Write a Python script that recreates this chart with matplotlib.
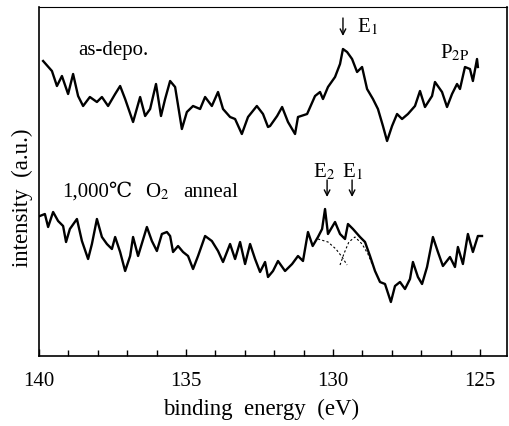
import matplotlib
matplotlib.use("Agg")
import matplotlib.pyplot as plt

plt.rcParams["font.family"] = ["Liberation Serif", "DejaVu Serif"]
plt.rcParams["mathtext.fontset"] = "stix"

# as-depo. spectrum (binding energy [eV], intensity [a.u.])
depo_ev = [139.86, 139.56, 139.39, 139.22, 139.01, 138.84, 138.67, 138.50, 138.27, 138.03,
           137.86, 137.65, 137.41, 137.24, 137.07, 136.80, 136.56, 136.39, 136.22, 136.02,
           135.85, 135.71, 135.54, 135.37, 135.14, 134.97, 134.76, 134.52, 134.35, 134.12,
           133.91, 133.74, 133.50, 133.33, 133.10, 132.89, 132.59, 132.38, 132.21, 132.14,
           131.90, 131.73, 131.53, 131.29, 131.19, 130.88, 130.61, 130.44, 130.34, 130.17,
           129.93, 129.76, 129.66, 129.52, 129.35, 129.18, 129.01, 128.84, 128.64, 128.47,
           128.30, 128.16, 127.99, 127.82, 127.65, 127.45, 127.21, 127.04, 126.87, 126.63,
           126.53, 126.29, 126.12, 125.95, 125.78, 125.68, 125.51, 125.34, 125.24, 125.10,
           125.07]
depo_int = [295, 285, 270, 280, 262, 282, 260, 250, 259, 254,
            259, 250, 262, 270, 257, 234, 259, 240, 247, 272,
            240, 257, 275, 269, 227, 244, 250, 247, 259, 250,
            264, 247, 239, 237, 222, 239, 250, 242, 229, 230,
            240, 249, 234, 222, 239, 242, 260, 264, 257, 269,
            279, 292, 307, 304, 297, 284, 289, 267, 257, 247,
            230, 215, 230, 242, 237, 242, 250, 265, 249, 260,
            274, 264, 249, 262, 272, 267, 289, 287, 275, 297,
            289]

# 1,000C O2 anneal spectrum
anneal_ev = [139.97, 139.80, 139.69, 139.52, 139.35, 139.18, 139.08, 138.95, 138.71, 138.54,
             138.33, 138.20, 138.03, 137.86, 137.69, 137.52, 137.41, 137.24, 137.07, 136.90,
             136.80, 136.63, 136.33, 136.16, 135.99, 135.82, 135.65, 135.54, 135.44, 135.27,
             135.10, 134.93, 134.76, 134.59, 134.35, 134.12, 133.91, 133.74, 133.50, 133.33,
             133.16, 132.99, 132.82, 132.65, 132.48, 132.31, 132.21, 132.04, 131.87, 131.63,
             131.39, 131.19, 131.02, 130.85, 130.69, 130.51, 130.37, 130.27, 130.17, 129.93,
             129.76, 129.59, 129.49, 129.32, 129.08, 128.91, 128.74, 128.57, 128.40, 128.23,
             128.03, 127.89, 127.72, 127.55, 127.38, 127.28, 127.11, 126.97, 126.80, 126.60,
             126.43, 126.26, 126.02, 125.85, 125.75, 125.58, 125.41, 125.24, 125.07, 124.93]
anneal_int = [140, 142, 129, 144, 135, 130, 114, 127, 137, 115,
              97, 112, 137, 119, 112, 107, 119, 104, 85, 100,
              119, 100, 129, 115, 105, 122, 124, 120, 104, 110,
              104, 100, 87, 100, 120, 115, 105, 94, 112, 97,
              114, 92, 112, 97, 84, 94, 79, 85, 95, 85,
              92, 100, 95, 124, 110, 119, 127, 147, 122, 134,
              122, 117, 132, 127, 119, 114, 100, 85, 74, 72,
              54, 70, 74, 67, 77, 94, 79, 72, 89, 119,
              104, 90, 99, 89, 109, 92, 122, 104, 120, 120]

# fitted components (dashed)
comp_e2_ev = [130.51, 130.17, 129.90, 129.69, 129.52]
comp_e2_int = [117, 114, 107, 99, 91]
comp_e1_ev = [129.76, 129.63, 129.46, 129.25, 129.01, 128.81, 128.67]
comp_e1_int = [91, 102, 114, 119, 112, 102, 92]

fig = plt.figure(figsize=(5.09, 4.27), dpi=100)
ax = fig.add_axes([39/509, 70/427, 468/509, 349/427])

ax.plot(depo_ev, depo_int, color="black", lw=1.7)
ax.plot(anneal_ev, anneal_int, color="black", lw=1.7)
ax.plot(comp_e2_ev, comp_e2_int, color="black", lw=0.8, ls=(0, (2, 2)))
ax.plot(comp_e1_ev, comp_e1_int, color="black", lw=0.8, ls=(0, (2, 2)))

ax.set_xlim(140, 124.08)
ax.set_ylim(0, 349)
ax.set_xticks([140, 135, 130, 125])
ax.set_xticks(range(126, 140), minor=True)
ax.set_yticks([])
ax.tick_params(axis="x", which="both", direction="in", labelsize=15, pad=11)
ax.tick_params(axis="x", which="major", length=5, width=1)
ax.tick_params(axis="x", which="minor", length=4, width=1)
for s in ax.spines.values():
    s.set_linewidth(1.2)
ax.spines["top"].set_linewidth(0.8)

fig.text(261/509, 1 - 409/427, "binding  energy  (eV)", fontsize=16.5,
         ha="center", va="center")
fig.text(22/509, 1 - 198/427, "intensity  (a.u.)", fontsize=16.5,
         rotation=90, ha="center", va="center")

fs = 15
ax.text(138.67, 302, "as-depo.", fontsize=fs)
ax.text(129.18, 325, r"E$_1$", fontsize=fs)
ax.text(126.36, 299, r"P$_{2\mathrm{P}}$", fontsize=fs)
ax.text(139.22, 160, "1,000℃", fontsize=fs)
ax.text(136.39, 160, r"O$_2$", fontsize=fs)
ax.text(135.10, 160, "anneal", fontsize=fs)
ax.text(130.68, 180, r"E$_2$", fontsize=fs)
ax.text(129.70, 180, r"E$_1$", fontsize=fs)

arrow = dict(arrowstyle="->", lw=1.0, color="black", shrinkA=0, shrinkB=0)
ax.annotate("", xy=(129.66, 320), xytext=(129.66, 338), arrowprops=arrow)
ax.annotate("", xy=(130.2, 159), xytext=(130.2, 176), arrowprops=arrow)
ax.annotate("", xy=(129.35, 159), xytext=(129.35, 176), arrowprops=arrow)

fig.savefig("out.png", dpi=100)
